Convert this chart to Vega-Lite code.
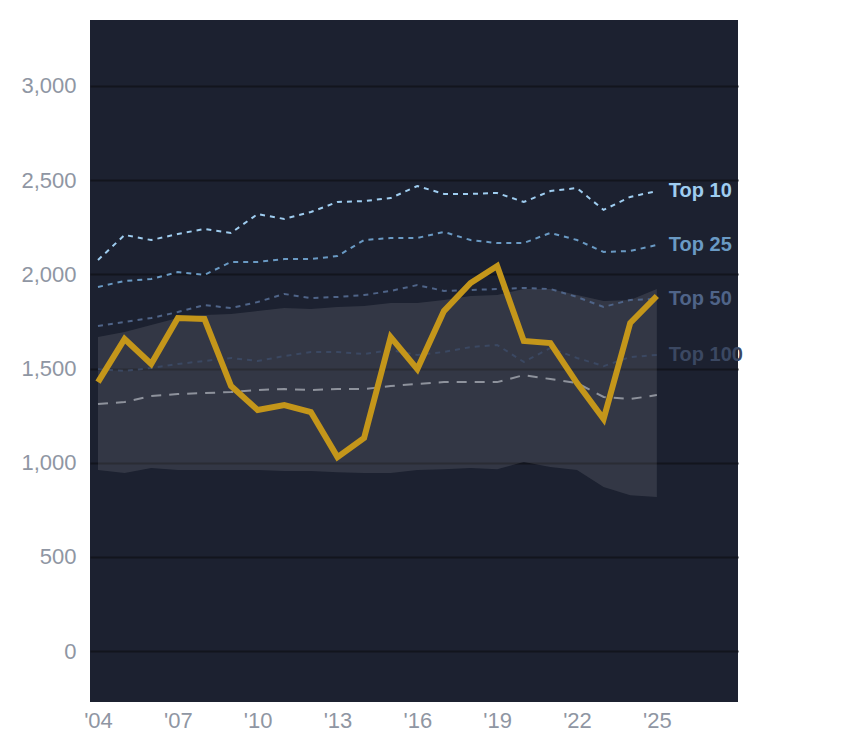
{
  "$schema": "https://vega.github.io/schema/vega-lite/v6.json",
  "width": 648,
  "height": 682,
  "autosize": "none",
  "padding": {"left": 90, "top": 20, "right": 106, "bottom": 46},
  "background": "white",
  "config": {
    "view": {"fill": "#1c2130", "stroke": null},
    "axis": {"labelFont": "Liberation Sans", "labelFontSize": 22, "labelColor": "#8f96a3", "domain": false, "ticks": false}
  },
  "datasets": {
    "band": [
      {"year": 2004, "lo": 961, "hi": 1667}, {"year": 2005, "lo": 945, "hi": 1694},
      {"year": 2006, "lo": 972, "hi": 1731}, {"year": 2007, "lo": 961, "hi": 1768},
      {"year": 2008, "lo": 961, "hi": 1784}, {"year": 2009, "lo": 961, "hi": 1789},
      {"year": 2010, "lo": 961, "hi": 1805}, {"year": 2011, "lo": 956, "hi": 1821},
      {"year": 2012, "lo": 956, "hi": 1816}, {"year": 2013, "lo": 950, "hi": 1827},
      {"year": 2014, "lo": 945, "hi": 1832}, {"year": 2015, "lo": 945, "hi": 1848},
      {"year": 2016, "lo": 961, "hi": 1848}, {"year": 2017, "lo": 966, "hi": 1864},
      {"year": 2018, "lo": 972, "hi": 1885}, {"year": 2019, "lo": 966, "hi": 1890},
      {"year": 2020, "lo": 1004, "hi": 1922}, {"year": 2021, "lo": 977, "hi": 1922},
      {"year": 2022, "lo": 961, "hi": 1890}, {"year": 2023, "lo": 871, "hi": 1858},
      {"year": 2024, "lo": 828, "hi": 1864}, {"year": 2025, "lo": 818, "hi": 1922}
    ],
    "lines": [
      {"s": "Top 10", "year": 2004, "v": 2076}, {"s": "Top 10", "year": 2005, "v": 2209}, {"s": "Top 10", "year": 2006, "v": 2182}, {"s": "Top 10", "year": 2007, "v": 2214}, {"s": "Top 10", "year": 2008, "v": 2241}, {"s": "Top 10", "year": 2009, "v": 2220}, {"s": "Top 10", "year": 2010, "v": 2320}, {"s": "Top 10", "year": 2011, "v": 2294}, {"s": "Top 10", "year": 2012, "v": 2331}, {"s": "Top 10", "year": 2013, "v": 2384}, {"s": "Top 10", "year": 2014, "v": 2389}, {"s": "Top 10", "year": 2015, "v": 2405}, {"s": "Top 10", "year": 2016, "v": 2469}, {"s": "Top 10", "year": 2017, "v": 2427}, {"s": "Top 10", "year": 2018, "v": 2427}, {"s": "Top 10", "year": 2019, "v": 2432}, {"s": "Top 10", "year": 2020, "v": 2384}, {"s": "Top 10", "year": 2021, "v": 2442}, {"s": "Top 10", "year": 2022, "v": 2458}, {"s": "Top 10", "year": 2023, "v": 2342}, {"s": "Top 10", "year": 2024, "v": 2411}, {"s": "Top 10", "year": 2025, "v": 2442},
      {"s": "Top 25", "year": 2004, "v": 1933}, {"s": "Top 25", "year": 2005, "v": 1965}, {"s": "Top 25", "year": 2006, "v": 1975}, {"s": "Top 25", "year": 2007, "v": 2012}, {"s": "Top 25", "year": 2008, "v": 1997}, {"s": "Top 25", "year": 2009, "v": 2066}, {"s": "Top 25", "year": 2010, "v": 2066}, {"s": "Top 25", "year": 2011, "v": 2081}, {"s": "Top 25", "year": 2012, "v": 2081}, {"s": "Top 25", "year": 2013, "v": 2097}, {"s": "Top 25", "year": 2014, "v": 2182}, {"s": "Top 25", "year": 2015, "v": 2193}, {"s": "Top 25", "year": 2016, "v": 2193}, {"s": "Top 25", "year": 2017, "v": 2225}, {"s": "Top 25", "year": 2018, "v": 2182}, {"s": "Top 25", "year": 2019, "v": 2166}, {"s": "Top 25", "year": 2020, "v": 2166}, {"s": "Top 25", "year": 2021, "v": 2220}, {"s": "Top 25", "year": 2022, "v": 2182}, {"s": "Top 25", "year": 2023, "v": 2119}, {"s": "Top 25", "year": 2024, "v": 2124}, {"s": "Top 25", "year": 2025, "v": 2156},
      {"s": "Top 50", "year": 2004, "v": 1726}, {"s": "Top 50", "year": 2005, "v": 1747}, {"s": "Top 50", "year": 2006, "v": 1768}, {"s": "Top 50", "year": 2007, "v": 1800}, {"s": "Top 50", "year": 2008, "v": 1837}, {"s": "Top 50", "year": 2009, "v": 1821}, {"s": "Top 50", "year": 2010, "v": 1853}, {"s": "Top 50", "year": 2011, "v": 1896}, {"s": "Top 50", "year": 2012, "v": 1874}, {"s": "Top 50", "year": 2013, "v": 1880}, {"s": "Top 50", "year": 2014, "v": 1890}, {"s": "Top 50", "year": 2015, "v": 1912}, {"s": "Top 50", "year": 2016, "v": 1943}, {"s": "Top 50", "year": 2017, "v": 1912}, {"s": "Top 50", "year": 2018, "v": 1917}, {"s": "Top 50", "year": 2019, "v": 1922}, {"s": "Top 50", "year": 2020, "v": 1928}, {"s": "Top 50", "year": 2021, "v": 1922}, {"s": "Top 50", "year": 2022, "v": 1880}, {"s": "Top 50", "year": 2023, "v": 1827}, {"s": "Top 50", "year": 2024, "v": 1864}, {"s": "Top 50", "year": 2025, "v": 1869},
      {"s": "Top 100", "year": 2004, "v": 1497}, {"s": "Top 100", "year": 2005, "v": 1487}, {"s": "Top 100", "year": 2006, "v": 1503}, {"s": "Top 100", "year": 2007, "v": 1524}, {"s": "Top 100", "year": 2008, "v": 1540}, {"s": "Top 100", "year": 2009, "v": 1556}, {"s": "Top 100", "year": 2010, "v": 1540}, {"s": "Top 100", "year": 2011, "v": 1566}, {"s": "Top 100", "year": 2012, "v": 1588}, {"s": "Top 100", "year": 2013, "v": 1588}, {"s": "Top 100", "year": 2014, "v": 1577}, {"s": "Top 100", "year": 2015, "v": 1598}, {"s": "Top 100", "year": 2016, "v": 1572}, {"s": "Top 100", "year": 2017, "v": 1588}, {"s": "Top 100", "year": 2018, "v": 1614}, {"s": "Top 100", "year": 2019, "v": 1625}, {"s": "Top 100", "year": 2020, "v": 1535}, {"s": "Top 100", "year": 2021, "v": 1609}, {"s": "Top 100", "year": 2022, "v": 1556}, {"s": "Top 100", "year": 2023, "v": 1513}, {"s": "Top 100", "year": 2024, "v": 1561}, {"s": "Top 100", "year": 2025, "v": 1572},
      {"s": "Median", "year": 2004, "v": 1312}, {"s": "Median", "year": 2005, "v": 1322}, {"s": "Median", "year": 2006, "v": 1354}, {"s": "Median", "year": 2007, "v": 1365}, {"s": "Median", "year": 2008, "v": 1370}, {"s": "Median", "year": 2009, "v": 1375}, {"s": "Median", "year": 2010, "v": 1386}, {"s": "Median", "year": 2011, "v": 1391}, {"s": "Median", "year": 2012, "v": 1386}, {"s": "Median", "year": 2013, "v": 1391}, {"s": "Median", "year": 2014, "v": 1391}, {"s": "Median", "year": 2015, "v": 1407}, {"s": "Median", "year": 2016, "v": 1418}, {"s": "Median", "year": 2017, "v": 1428}, {"s": "Median", "year": 2018, "v": 1428}, {"s": "Median", "year": 2019, "v": 1428}, {"s": "Median", "year": 2020, "v": 1465}, {"s": "Median", "year": 2021, "v": 1444}, {"s": "Median", "year": 2022, "v": 1423}, {"s": "Median", "year": 2023, "v": 1349}, {"s": "Median", "year": 2024, "v": 1338}, {"s": "Median", "year": 2025, "v": 1359}
    ],
    "main": [
      {"year": 2004, "v": 1428}, {"year": 2005, "v": 1657}, {"year": 2006, "v": 1524}, {"year": 2007, "v": 1768},
      {"year": 2008, "v": 1763}, {"year": 2009, "v": 1407}, {"year": 2010, "v": 1280}, {"year": 2011, "v": 1306},
      {"year": 2012, "v": 1269}, {"year": 2013, "v": 1030}, {"year": 2014, "v": 1131}, {"year": 2015, "v": 1667},
      {"year": 2016, "v": 1497}, {"year": 2017, "v": 1805}, {"year": 2018, "v": 1954}, {"year": 2019, "v": 2044},
      {"year": 2020, "v": 1646}, {"year": 2021, "v": 1635}, {"year": 2022, "v": 1423}, {"year": 2023, "v": 1232},
      {"year": 2024, "v": 1742}, {"year": 2025, "v": 1885}
    ]
  },
  "encoding": {
    "x": {"field": "year", "type": "quantitative", "scale": {"domain": [2003.7, 2028.05], "nice": false, "zero": false},
      "axis": {"values": [2004, 2007, 2010, 2013, 2016, 2019, 2022, 2025], "grid": false, "title": null, "labelPadding": 8, "labelExpr": "\"'\" + substring(toString(datum.value), 2)"}},
    "y": {"type": "quantitative", "scale": {"domain": [-270, 3350], "nice": false, "zero": false},
      "axis": {"values": [0, 500, 1000, 1500, 2000, 2500, 3000], "grid": true, "gridColor": "#12151d", "gridWidth": 2, "title": null, "labelPadding": 14}}
  },
  "layer": [
    {
      "data": {"name": "band"},
      "mark": {"type": "area", "color": "#ffffff", "opacity": 0.1},
      "encoding": {"y": {"field": "hi", "type": "quantitative"}, "y2": {"field": "lo"}}
    },
    {
      "data": {"name": "lines"},
      "mark": {"type": "line", "strokeWidth": 2},
      "encoding": {
        "y": {"field": "v", "type": "quantitative"},
        "color": {"field": "s", "type": "nominal", "legend": null,
          "scale": {"domain": ["Top 10", "Top 25", "Top 50", "Top 100", "Median"], "range": ["#9fcdf0", "#6a9ac4", "#4f6488", "#3b4862", "#8e929c"]}},
        "strokeDash": {"field": "s", "type": "nominal", "legend": null,
          "scale": {"domain": ["Top 10", "Top 25", "Top 50", "Top 100", "Median"], "range": [[5, 5], [5, 5], [5, 5], [5, 5], [10, 8]]}},
        "strokeWidth": {"field": "s", "type": "nominal", "legend": null,
          "scale": {"domain": ["Top 10", "Top 25", "Top 50", "Top 100", "Median"], "range": [2, 2, 2, 2, 2.5]}}
      }
    },
    {
      "data": {"name": "main"},
      "mark": {"type": "line", "color": "#c4961a", "strokeWidth": 6, "strokeJoin": "miter", "strokeCap": "butt"},
      "encoding": {"y": {"field": "v", "type": "quantitative"}}
    },
    {
      "data": {"name": "lines"},
      "transform": [{"filter": "datum.year == 2025 && datum.s != 'Median'"}],
      "mark": {"type": "text", "align": "left", "baseline": "middle", "dx": 12, "font": "Liberation Sans", "fontWeight": "bold", "fontSize": 20, "clip": false},
      "encoding": {
        "y": {"field": "v", "type": "quantitative"},
        "text": {"field": "s"},
        "color": {"field": "s", "type": "nominal", "legend": null,
          "scale": {"domain": ["Top 10", "Top 25", "Top 50", "Top 100", "Median"], "range": ["#9fcdf0", "#6a9ac4", "#4f6488", "#3b4862", "#8e929c"]}}
      }
    }
  ]
}
